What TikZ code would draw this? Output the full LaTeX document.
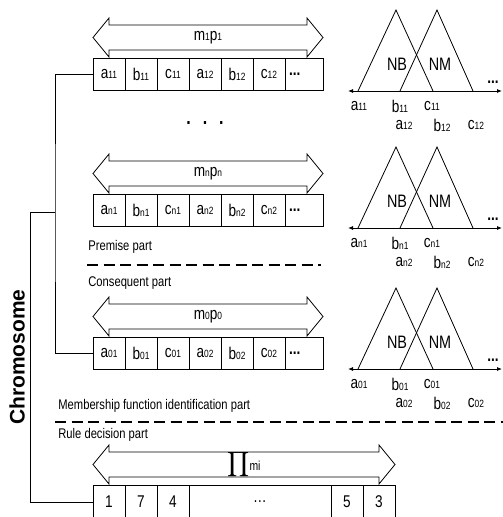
\documentclass[tikz,border=0pt]{standalone}
\usepackage{amsmath}
\usepackage{fontspec}
\setmainfont{Liberation Sans}[FakeStretch=0.8]
\newfontfamily\plainsans{Liberation Sans}
\usepackage{tikz}
\usetikzlibrary{arrows.meta}

\newcommand{\ix}[1]{{\fontsize{10.5}{10.5}\selectfont #1}}
% block arrow spanning a gene string
\newcommand{\spanarrow}[3]{%
  \draw (#1,#3) -- ++(16,-19.5) -- ++(0,7) -- (#2-16,#3-12.5) -- ++(0,-7)
    -- (#2,#3) -- ++(-16,19.5) -- ++(0,-7) -- (#1+16,#3+12.5) -- ++(0,7) -- cycle;}
% one string of membership genes
\newcommand{\generow}[3]{%
  \foreach \lett/\num [count=\pos] in {a/1,b/1,c/1,a/2,b/2,c/2}
    \node[cell] (#1\pos) at (109+32*\pos-32,#2) {\lett\ix{#3\num}};
  \node[cell, minimum width=38pt, text width=30pt, align=left] (#1x) at (304,#2) {\textbf{...}};}
% two triangular membership functions
\newcommand{\mfplot}[2]{%
  \draw[axis] (348,#1) -- (502,#1);
  \draw (358,#1) -- (396,#1-81) -- (433,#1);
  \draw (400,#1) -- (437,#1-81) -- (473,#1);
  \node[lbl, font=\fontsize{18}{18}\selectfont] (nb#2) at (397,#1-27) {NB};
  \node[lbl, font=\fontsize{18}{18}\selectfont] (nm#2) at (440,#1-27) {NM};
  \node[lbl] (more#2) at (493,#1-9) {\textbf{...}};
  \node[lbl] (ta#2) at (359,#1+15) {a\ix{#21}};
  \node[lbl] (tb#2) at (400,#1+15) {b\ix{#21}};
  \node[lbl] (tc#2) at (432,#1+15) {c\ix{#21}};
  \node[lbl] (ua#2) at (404,#1+34) {a\ix{#22}};
  \node[lbl] (ub#2) at (442,#1+34) {b\ix{#22}};
  \node[lbl] (uc#2) at (476,#1+34) {c\ix{#22}};}

\begin{document}
\begin{tikzpicture}[x=1pt, y=-1pt, line width=0.8pt,
		cell/.style={draw, minimum width=32pt, minimum height=32pt, inner sep=0pt, font=\fontsize{17}{17}\selectfont},
		lbl/.style={inner sep=0pt, font=\fontsize{17}{17}\selectfont},
		part/.style={anchor=west, inner sep=0pt, font=\fontsize{14}{14}\selectfont},
		sep/.style={line width=2.5pt, dash pattern=on 11pt off 5.5pt},
		axis/.style={{Latex[length=5pt,width=4pt]}-{Latex[length=5pt,width=4pt]}}
		]
		\useasboundingbox (0,0) rectangle (503,517);
		% premise genes
		\spanarrow{93}{323}{37.5}
		\node[lbl] (p1) at (208,37.5) {m\ix{1}p\ix{1}};
		\generow{g1}{74}{1}
		\mfplot{91}{1}
		\node[anchor=base, inner sep=0pt, font=\fontsize{20}{20}\selectfont\bfseries] (skip) at (205,124) {.\hspace{12pt}.\hspace{12pt}.};
		\spanarrow{93}{323}{173.5}
		\node[lbl] (pn) at (208,173.5) {m\ix{n}p\ix{n}};
		\generow{gn}{210}{n}
		\mfplot{228}{n}
		\node[part] (prem) at (88,247) {Premise part};
		\draw[sep] (87,265) -- (321,265);
		\node[part] (cons) at (88,283) {Consequent part};
		% consequent genes
		\spanarrow{93}{323}{316.5}
		\node[lbl] (p0) at (208,316.5) {m\ix{0}p\ix{0}};
		\generow{g0}{353}{0}
		\mfplot{369}{0}
		\node[part] (memb) at (58,406) {Membership function identification part};
		\draw[sep] (55,422) -- (503,422);
		\node[part] (rule) at (58,435) {Rule decision part};
		% rule genes
		\spanarrow{93}{395}{464.5}
		\node[lbl] (prod) at (244,464.5) {$\displaystyle\prod$\raisebox{-2pt}{\fontsize{13}{13}\selectfont mi}};
		\node[cell] (r1) at (109,502) [minimum height=34pt] {1};
		\node[cell] (r2) at (141,502) [minimum height=34pt] {7};
		\node[cell] (r3) at (173,502) [minimum height=34pt] {4};
		\node[cell] (rx) at (260,502) [minimum height=34pt, minimum width=142pt] {\dots};
		\node[cell] (r5) at (347,502) [minimum height=34pt] {5};
		\node[cell] (r6) at (379,502) [minimum height=34pt] {3};
		% chromosome bracket
		\node[rotate=90, inner sep=0pt, font=\plainsans\bfseries\fontsize{21}{21}\selectfont] (chrom) at (17,357) {Chromosome};
		\coordinate (brk) at (55,212);
		\coordinate (root) at (30,212);
		\draw (g11.west) -| (brk) |- (g01.west);
		\draw (brk) -- (root) |- (r1.west);
\end{tikzpicture}
\end{document}
